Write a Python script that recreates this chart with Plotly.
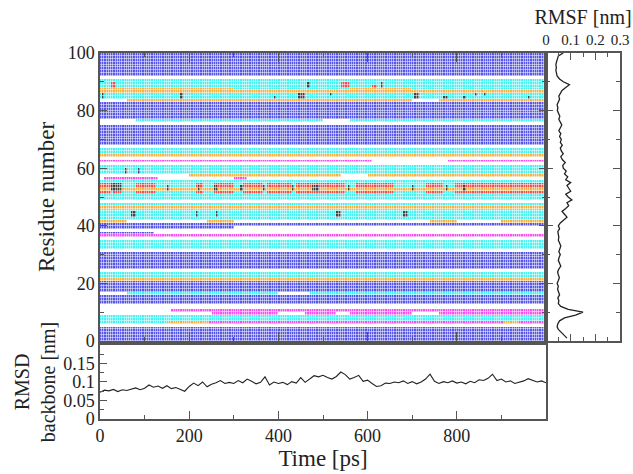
import plotly.graph_objects as go

# ---------------- data ----------------
residues = list(range(1, 101))
frame_times = [2.5 + 5 * i for i in range(200)]  # ps, frame centres

# secondary-structure codes: 0 coil(white) 1 helix(blue) 2 cyan 3 orange 4 magenta 5 red 6 black
base_state = [
    1, 1, 1, 1, 1, 0, 4, 2, 2, 0,   # 1-10
    4, 0, 0, 1, 1, 1, 2, 1, 1, 1,   # 11-20
    1, 3, 2, 2, 0, 1, 1, 1, 1, 1,   # 21-30
    1, 0, 2, 2, 2, 0, 4, 0, 0, 0,   # 31-40
    1, 0, 2, 2, 2, 2, 3, 2, 0, 2,   # 41-50
    2, 2, 3, 2, 2, 2, 0, 3, 2, 2,   # 51-60
    2, 0, 4, 0, 3, 2, 2, 0, 1, 1,   # 61-70
    1, 1, 1, 1, 1, 0, 2, 1, 1, 1,   # 71-80
    1, 1, 1, 3, 2, 2, 3, 2, 2, 2,   # 81-90
    2, 0, 1, 1, 1, 1, 1, 1, 1, 1,   # 91-100
]

# (first residue, last residue, start ps, end ps, state)
events = [
    (7, 7, 0, 150, 2), (7, 7, 150, 245, 3), (7, 7, 905, 940, 3),
    (10, 10, 0, 250, 0), (10, 10, 250, 400, 4), (10, 10, 460, 530, 4),
    (10, 10, 560, 700, 4), (10, 10, 760, 1000, 4),
    (11, 11, 0, 160, 0), (11, 11, 160, 260, 4),
    (17, 17, 0, 60, 0), (17, 17, 400, 470, 0),
    (38, 38, 0, 120, 1), (40, 40, 0, 300, 1),
    (42, 42, 0, 60, 3), (42, 42, 240, 300, 3), (42, 42, 740, 800, 3), (42, 42, 900, 1000, 3),
    (52, 52, 0, 25, 5), (54, 55, 0, 25, 5), (52, 52, 30, 50, 5), (54, 55, 30, 50, 5),
    (52, 52, 80, 125, 5), (54, 55, 80, 125, 5), (52, 52, 215, 230, 5), (54, 55, 215, 230, 5),
    (52, 52, 255, 300, 5), (54, 55, 255, 300, 5), (52, 52, 320, 365, 5), (54, 55, 320, 365, 5),
    (52, 52, 375, 430, 5), (54, 55, 375, 430, 5), (52, 52, 440, 550, 5), (54, 55, 440, 550, 5),
    (52, 52, 575, 660, 5), (54, 55, 575, 660, 5), (52, 52, 730, 770, 5), (54, 55, 730, 770, 5),
    (52, 52, 795, 1000, 5), (54, 55, 795, 1000, 5),
    (57, 57, 10, 130, 4), (57, 57, 300, 330, 4),
    (58, 58, 0, 200, 0), (58, 58, 540, 600, 0),
    (63, 63, 610, 780, 0),
    (76, 76, 0, 1000, 0), (77, 77, 0, 80, 0), (77, 77, 500, 560, 0),
    (84, 84, 0, 60, 0), (84, 84, 700, 760, 0),
    (88, 88, 0, 300, 3), (88, 88, 560, 700, 3),
    (89, 90, 25, 35, 5), (89, 90, 538, 558, 5), (89, 89, 608, 618, 5),
    # black (bridge) marks
    (85, 86, 3, 12, 6), (85, 86, 178, 184, 6), (85, 85, 390, 396, 6), (85, 86, 446, 462, 6),
    (89, 90, 465, 470, 6), (86, 86, 514, 520, 6), (89, 90, 628, 634, 6), (85, 86, 704, 716, 6),
    (85, 85, 772, 782, 6), (85, 85, 816, 822, 6), (86, 86, 838, 844, 6), (86, 86, 860, 866, 6),
    (85, 85, 958, 964, 6),
    (59, 60, 54, 60, 6), (59, 60, 84, 90, 6),
    (53, 55, 26, 48, 6), (53, 54, 148, 154, 6), (53, 54, 218, 224, 6), (53, 54, 256, 266, 6),
    (53, 54, 316, 322, 6), (53, 54, 364, 370, 6), (53, 54, 430, 436, 6), (53, 54, 476, 492, 6),
    (53, 54, 555, 561, 6), (53, 54, 700, 706, 6), (53, 54, 775, 781, 6), (53, 54, 816, 822, 6),
    (44, 45, 72, 78, 6), (44, 45, 214, 220, 6), (44, 45, 260, 266, 6), (44, 45, 532, 538, 6),
    (44, 45, 682, 688, 6),
]

rmsd_time = list(range(0, 1001, 10))
rmsd_nm = [
    0.072, 0.078, 0.076, 0.080, 0.074, 0.079, 0.077, 0.081, 0.084, 0.079,
    0.083, 0.092, 0.086, 0.089, 0.083, 0.090, 0.082, 0.085, 0.081, 0.075,
    0.088, 0.097, 0.090, 0.100, 0.087, 0.094, 0.098, 0.104, 0.096, 0.099,
    0.096, 0.104, 0.098, 0.108, 0.102, 0.095, 0.099, 0.114, 0.092, 0.100,
    0.096, 0.099, 0.093, 0.101, 0.097, 0.112, 0.099, 0.107, 0.117, 0.114,
    0.118, 0.112, 0.108, 0.115, 0.127, 0.120, 0.108, 0.112, 0.118, 0.102,
    0.105, 0.096, 0.088, 0.090, 0.097, 0.096, 0.100, 0.098, 0.103, 0.096,
    0.101, 0.095, 0.100, 0.108, 0.121, 0.102, 0.096, 0.101, 0.098, 0.103,
    0.097, 0.100, 0.095, 0.102, 0.098, 0.106, 0.104, 0.110, 0.121, 0.104,
    0.108, 0.100, 0.103, 0.096, 0.099, 0.103, 0.109, 0.104, 0.100, 0.103,
    0.098,
]

rmsf_nm = [
    0.085, 0.075, 0.062, 0.050, 0.045, 0.048, 0.055, 0.075, 0.120, 0.150,
    0.090, 0.060, 0.050, 0.052, 0.048, 0.055, 0.050, 0.047, 0.050, 0.045,
    0.050, 0.054, 0.050, 0.047, 0.052, 0.060, 0.055, 0.050, 0.053, 0.058,
    0.052, 0.055, 0.060, 0.055, 0.050, 0.052, 0.050, 0.048, 0.055, 0.050,
    0.058, 0.070, 0.085, 0.075, 0.065, 0.080, 0.092, 0.085, 0.105, 0.090,
    0.080, 0.100, 0.092, 0.085, 0.100, 0.080, 0.088, 0.075, 0.082, 0.070,
    0.068, 0.078, 0.066, 0.060, 0.070, 0.062, 0.058, 0.066, 0.058, 0.062,
    0.055, 0.060, 0.052, 0.058, 0.064, 0.058, 0.052, 0.056, 0.050, 0.046,
    0.048, 0.045, 0.050, 0.055, 0.052, 0.058, 0.065, 0.080, 0.095, 0.070,
    0.055, 0.045, 0.042, 0.040, 0.042, 0.040, 0.043, 0.045, 0.050, 0.070,
]

rmsd_ticks = [0, 0.05, 0.1, 0.15]
rmsf_ticks = [0, 0.1, 0.2, 0.3]
time_ticks = [0, 200, 400, 600, 800]

state_colors = ["#ffffff", "#5656e8", "#44f2f2", "#f8b040", "#f650f0", "#f05050", "#444444"]

# ---------------- build matrix ----------------
z = [[base_state[r - 1] for _ in frame_times] for r in residues]
for r0, r1, t0, t1, s in events:
    for r in range(r0, r1 + 1):
        for j, t in enumerate(frame_times):
            if t0 <= t < t1:
                z[r - 1][j] = s

n = len(state_colors)
colorscale = []
for i, c in enumerate(state_colors):
    colorscale.append([i / n, c])
    colorscale.append([(i + 1) / n, c])

FONT = "Liberation Serif, Times New Roman, DejaVu Serif, serif"
LINE = "#555555"

fig = go.Figure()
fig.add_trace(go.Heatmap(
    x=frame_times, y=[r - 0.5 for r in residues], z=z,
    colorscale=colorscale, zmin=-0.5, zmax=n - 0.5, showscale=False,
    xgap=0.5, ygap=0.5, xaxis="x", yaxis="y", hoverinfo="skip"))
fig.add_trace(go.Scatter(
    x=rmsf_nm, y=residues, mode="lines", line=dict(color="#222222", width=1.3),
    xaxis="x2", yaxis="y2", showlegend=False))
fig.add_trace(go.Scatter(
    x=rmsd_time, y=rmsd_nm, mode="lines", line=dict(color="#222222", width=1.1),
    xaxis="x3", yaxis="y3", showlegend=False))

split = 0.8577
ax_common = dict(showline=True, linecolor=LINE, linewidth=1.5, ticks="inside",
                 tickcolor=LINE, tickwidth=1.3, showgrid=False, zeroline=False,
                 automargin=False,
                 tickfont=dict(family=FONT, size=18, color="#222"))

fig.update_layout(
    width=633, height=474, plot_bgcolor="white", paper_bgcolor="white",
    margin=dict(l=100, r=13, t=53, b=55), showlegend=False,
    font=dict(family=FONT, color="#222"),
    xaxis=dict(**ax_common, domain=[0, split], range=[0, 1000], anchor="y",
               showticklabels=False, dtick=200, ticklen=9, mirror="ticks",
               minor=dict(dtick=100, ticklen=4, ticks="inside", tickcolor=LINE)),
    yaxis=dict(**ax_common, domain=[0.2131, 1], range=[0, 100], anchor="x",
               dtick=20, ticklen=7, mirror="ticks",
               minor=dict(dtick=10, ticklen=4, ticks="inside", tickcolor=LINE),
               title=dict(text="Residue number", font=dict(family=FONT, size=23), standoff=7)),
    xaxis2=dict(**{**ax_common, "tickfont": dict(family=FONT, size=15, color="#222")},
                domain=[split, 1], range=[0, 0.3], anchor="y2", side="top",
                tickvals=rmsf_ticks, ticktext=[f"{v:g}" for v in rmsf_ticks],
                ticklen=7, mirror="ticks",
                minor=dict(dtick=0.05, ticklen=4, ticks="inside", tickcolor=LINE),
                title=dict(text="RMSF [nm]", font=dict(family=FONT, size=20), standoff=2)),
    yaxis2=dict(**ax_common, domain=[0.2131, 1], range=[0, 100], anchor="x2",
                showticklabels=False, dtick=20, ticklen=7, mirror="ticks",
                minor=dict(dtick=10, ticklen=4, ticks="inside", tickcolor=LINE)),
    xaxis3=dict(**ax_common, domain=[0, split], range=[0, 1000], anchor="y3",
                tickvals=time_ticks, ticktext=[str(v) for v in time_ticks],
                ticklen=8, mirror=True,
                minor=dict(dtick=100, ticklen=4, ticks="inside", tickcolor=LINE),
                title=dict(text="Time [ps]", font=dict(family=FONT, size=23), standoff=2)),
    yaxis3=dict(**ax_common, domain=[0, 0.2022], range=[0, 0.2], anchor="x3",
                tickvals=rmsd_ticks, ticktext=[f"{v:g}" for v in rmsd_ticks],
                ticklen=7, mirror=True,
                minor=dict(dtick=0.025, ticklen=4, ticks="inside", tickcolor=LINE),
                title=dict(text="RMSD<br>backbone [nm]", font=dict(family=FONT, size=20), standoff=2)),
)

fig.write_html("out.html")
